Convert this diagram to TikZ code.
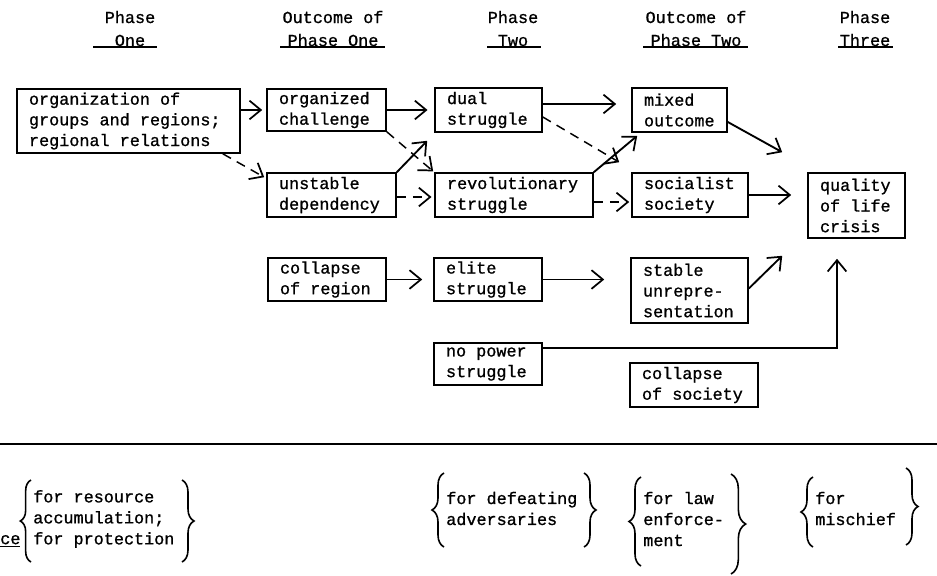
\documentclass[tikz,border=0pt]{standalone}
\usepackage{fontspec}
\setmainfont{Liberation Mono}[FakeBold=1]
\usetikzlibrary{arrows.meta,calc,decorations.pathreplacing}

\begin{document}
\begin{tikzpicture}[x=0.75pt,y=-0.75pt,
  txt/.style={font=\fontsize{12.6}{15.5}\selectfont},
  box/.style={txt, draw, line width=1.2pt, inner xsep=9pt, inner ysep=0pt, align=left,
    execute at begin node={\spaceskip=0.6em\relax}},
  head/.style={font=\fontsize{12.6}{17.25}\selectfont, align=center, inner sep=0pt},
  note/.style={font=\fontsize{12.6}{15.75}\selectfont, align=left, inner sep=0pt, anchor=west},
  tip/.style={-{Straight Barb[length=8.5pt,width=14pt,line width=1.3pt]}},
  solid arrow/.style={tip, line width=1.4pt},
  dash arrow/.style={tip, line width=1.1pt, dash pattern=on 7pt off 5pt},
  ruleline/.style={line width=1pt},
  curly/.style={line width=1.2pt, decorate, decoration={brace, amplitude=#1}},
  curly/.default=9pt
]
\useasboundingbox (0,0) rectangle (937,575);

% column headings
\node[head] (h1) at (130,28.5) {Phase\\One};
\node[head] (h2) at (333,28.5) {Outcome of\\Phase One};
\node[head] (h3) at (513,28.5) {Phase\\Two};
\node[head] (h4) at (696,28.5) {Outcome of\\Phase Two};
\node[head] (h5) at (865,28.5) {Phase\\Three};
\draw[ruleline] (93,47) -- (157,47);
\draw[ruleline] (280,47) -- (385,47);
\draw[ruleline] (487,47) -- (541,47);
\draw[ruleline] (643,47) -- (748,47);
\draw[ruleline] (838,47) -- (893,47);

% boxes
\node[box, text width=149.25pt, minimum height=48pt] (org) at (128.5,121)
  {organization of\\groups and regions;\\regional relations};
\node[box, text width=71.25pt, minimum height=31.5pt] (orgch) at (326.5,110)
  {organized\\challenge};
\node[box, text width=78.75pt, minimum height=33pt] (unst) at (331.5,195)
  {unstable\\dependency};
\node[box, text width=62.25pt, minimum height=33pt] (dual) at (488.5,110)
  {dual\\struggle};
\node[box, text width=100.5pt, minimum height=33pt] (rev) at (514,195)
  {revolutionary\\struggle};
\node[box, text width=53.25pt, minimum height=33pt] (mixed) at (679.5,110)
  {mixed\\outcome};
\node[box, text width=69pt, minimum height=33pt] (soc) at (690,195)
  {socialist\\society};
\node[box, text width=54.75pt, minimum height=48.75pt] (qual) at (856.5,205.5)
  {quality\\of life\\crisis};
\node[box, text width=70.5pt, minimum height=32.25pt] (colreg) at (327,279.5)
  {collapse\\of region};
\node[box, text width=63pt, minimum height=32.25pt] (elite) at (488,279.5)
  {elite\\struggle};
\node[box, text width=69.75pt, minimum height=48.75pt] (stable) at (689.5,290.5)
  {stable\\unrepre-\\sentation};
\node[box, text width=63pt, minimum height=31.5pt] (nopow) at (488,364)
  {no power\\struggle};
\node[box, text width=78pt, minimum height=33pt] (colsoc) at (694,385)
  {collapse\\of society};

% connectors, phase one
\draw[solid arrow, shorten >=3pt] (org.east |- orgch.west) -- (orgch.west);
\draw[dash arrow] ($(org.south east)+(-18,0)$) -- ($(unst.north west)+(-2,5)$);
% phase one outcomes to phase two
\draw[solid arrow, shorten >=5pt] (orgch.east) -- (dual.west);
\draw[dash arrow, shorten >=1pt] (orgch.south east) -- (rev.north west);
\draw[solid arrow] (unst.north east) -- ($(dual.south west)+(-7,8)$);
\draw[dash arrow, shorten >=2pt] ($(unst.east)+(0,2)$) -- ($(rev.west)+(0,2)$);
\draw[solid arrow] (colreg.east) -- ($(elite.west)+(-11,0)$);
% phase two to its outcomes
\draw[solid arrow, line width=1.2pt] ($(dual.east)+(0,-6)$) -- ($(mixed.west)+(-15,-6)$);
\draw[dash arrow] ($(dual.east)+(0,7)$) -- ($(soc.north west)+(-12,-10)$);
\draw[solid arrow] (rev.north east) -- ($(mixed.south west)+(6,3)$);
\draw[dash arrow] ($(rev.east)+(0,7)$) -- ($(soc.west)+(-2,7)$);
\draw[solid arrow, line width=1.2pt] (elite.east) -- ($(elite.east -| stable.west)+(-26,0)$);
% outcomes to phase three
\draw[solid arrow] ($(mixed.east)+(0,12)$) -- ($(qual.north west)+(-25,-20)$);
\draw[solid arrow] (soc.east) -- ($(soc.east -| qual.west)+(-16,0)$);
\draw[solid arrow] ($(stable.east)+(0,-2)$) -- ($(qual.south west)+(-25,17)$);
\draw[solid arrow, line width=1.2pt] ($(nopow.east)+(0,-16)$) -| ($(qual.south)+(-19.5,20)$);

% separating rule
\draw[line width=1.2pt] (0,444) -- (937,444);

% lower row of braced notes
\node[note] (ce) at (0,541) {\underline{ce}};
\node[note] (n1) at (33,519) {for resource\\accumulation;\\for protection};
\draw[curly=8pt] (31,562) -- (31,480);
\draw[curly] (182,480) -- (182,562);

\node[note] (n2) at (446,508.5) {for defeating\\adversaries};
\draw[curly] (444,547) -- (444,473);
\draw[curly] (584,473) -- (584,547);

\node[note] (n3) at (643,519) {for law\\enforce-\\ment};
\draw[curly] (641,566) -- (641,477);
\draw[curly=11pt] (731,474) -- (731,574);

\node[note] (n4) at (815,508.5) {for\\mischief};
\draw[curly] (813,547) -- (813,477);
\draw[curly] (906,468) -- (906,545);
\end{tikzpicture}
\end{document}
